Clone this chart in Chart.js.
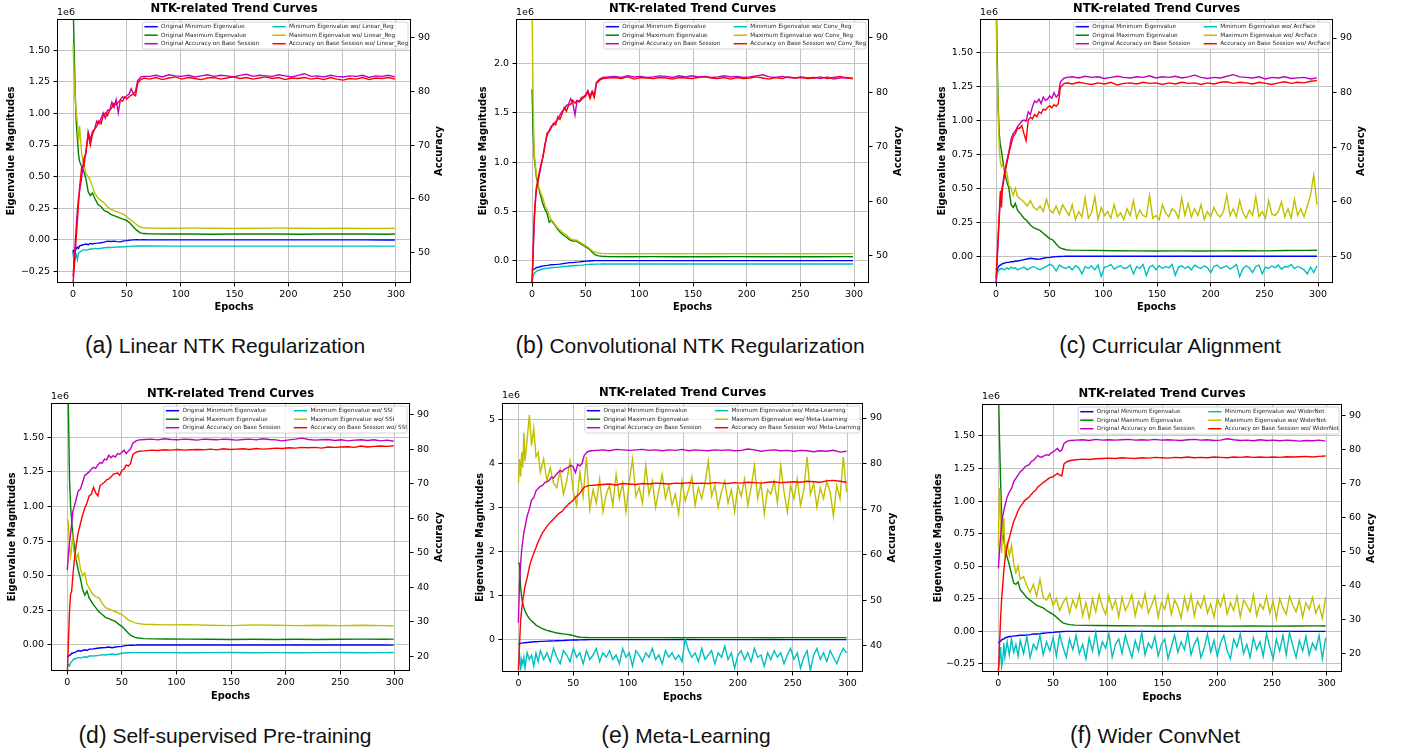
<!DOCTYPE html>
<html>
<head>
<meta charset="utf-8">
<script src="https://cdn.jsdelivr.net/npm/chart.js@4.4.1/dist/chart.umd.min.js"></script>
<style>
  body { margin: 0; background: #fff; width: 1403px; height: 753px; position: relative; overflow: hidden; }
  canvas { position: absolute; left: 0; top: 0; }
  .cap { position: absolute; transform: translate(-50%, -50%); white-space: nowrap; line-height: 1;
         font-family: "Liberation Sans", Arial, sans-serif; font-size: 21px; color: #111; }
  .cap .lab { font-size: 23px; }
</style>
</head>
<body>
<div class="cap" style="left:225px;top:345px"><span class="lab">(a)</span> Linear NTK Regularization</div>
<div class="cap" style="left:690px;top:345px"><span class="lab">(b)</span> Convolutional NTK Regularization</div>
<div class="cap" style="left:1170px;top:345px"><span class="lab">(c)</span> Curricular Alignment</div>
<div class="cap" style="left:225px;top:735px"><span class="lab">(d)</span> Self-supervised Pre-training</div>
<div class="cap" style="left:686px;top:735px"><span class="lab">(e)</span> Meta-Learning</div>
<div class="cap" style="left:1155px;top:735px"><span class="lab">(f)</span> Wider ConvNet</div>
<script>
const EPOCH_EIG = [0,1,2,3,4,5,6,8,10,12,14,16,18,20,
  23,26,29,32,35,38,41,44,47,50,53,56,59,62,65,
  70,90,110,130,150,170,190,210,230,250,270,290,299];
const EPOCH_ACC = [0,1,2,3,4,5,6,
  8,10,12,14,16,18,20,22,24,26,
  28,30,32,34,36,38,40,42,44,46,
  48,50,52,54,56,58,60,63,66,
  71,77,83,89,95,101,107,113,119,125,
  131,137,143,149,155,161,167,173,179,185,
  191,197,203,209,215,221,227,233,239,245,
  251,257,263,269,275,281,287,293,299];
const EPOCH_NOISE = [0,1,2,3,4,5,6,8,10,12,14,16,18,20,
  23,26,29,32,35,38,41,44,47,50,
  53,56,59,62,65,68,71,74,77,80,
  83,86,89,92,95,98,101,104,107,110,
  113,116,119,122,125,128,131,134,137,140,
  143,146,149,152,155,158,161,164,167,170,
  173,176,179,182,185,188,191,194,197,200,
  203,206,209,212,215,218,221,224,227,230,
  233,236,239,242,245,248,251,254,257,260,
  263,266,269,272,275,278,281,284,287,290,
  293,296,299];

const X_TICKS = [0,50,100,150,200,250,300];
const Y_TICKS_Q = [-0.25,0,0.25,0.5,0.75,1,1.25,1.5];
const Y_TICKS_Q0 = [0,0.25,0.5,0.75,1,1.25,1.5];
const Y_TICKS_B = [0,0.5,1,1.5,2];
const Y_TICKS_E = [0,1,2,3,4,5];
const ACC_TICKS_50 = [50,60,70,80,90];
const ACC_TICKS_40 = [40,50,60,70,80,90];
const ACC_TICKS_20 = [20,30,40,50,60,70,80,90];

// (a) Linear NTK Regularization
const A_MIN = [-0.08,-0.19,-0.09,-0.07,-0.06,-0.07,-0.05,-0.045,-0.04,-0.035,-0.04,-0.03,-0.035,-0.03,
  -0.028,-0.025,-0.02,-0.012,-0.015,-0.012,-0.016,-0.018,-0.01,-0.008,-0.004,-0.002,0,-0.002,-0.001,
  -0.002,-0.002,-0.002,-0.002,-0.002,-0.002,-0.002,-0.002,-0.002,-0.002,-0.002,-0.003,-0.003];
const A_MAX = [1.9,1.5,1.15,0.92,0.8,0.68,0.62,0.58,0.54,0.48,0.38,0.35,0.37,0.33,
  0.28,0.26,0.23,0.22,0.2,0.19,0.18,0.17,0.16,0.15,0.13,0.1,0.075,0.055,0.048,
  0.046,0.044,0.045,0.043,0.044,0.045,0.044,0.043,0.044,0.045,0.044,0.043,0.045];
const A_MIN_WO = [-0.1,-0.17,-0.14,-0.12,-0.16,-0.11,-0.1,-0.09,-0.08,-0.085,-0.08,-0.075,-0.075,-0.07,
  -0.072,-0.068,-0.065,-0.063,-0.062,-0.06,-0.058,-0.058,-0.057,-0.056,-0.054,-0.052,-0.051,-0.051,-0.051,
  -0.051,-0.052,-0.052,-0.052,-0.052,-0.052,-0.052,-0.052,-0.052,-0.052,-0.052,-0.052,-0.052];
const A_MAX_WO = [1.54,1.3,1.12,1.0,0.92,0.78,0.9,0.68,0.6,0.52,0.5,0.47,0.42,0.37,
  0.33,0.31,0.29,0.26,0.24,0.23,0.22,0.21,0.2,0.18,0.16,0.14,0.12,0.1,0.094,
  0.092,0.09,0.091,0.09,0.089,0.09,0.091,0.09,0.089,0.09,0.088,0.089,0.09];
const A_ACC = [45.5,49,52,55,58,60,61.5,
  64,67.5,68.5,72.5,71,72.5,73,74.5,74,75,
  76,75,76.5,76.5,78,77,78.5,76,78.5,79,
  78.8,79.2,79.5,80.5,79.6,80,82,82.7,82.8,
  82.8,83,82.7,83.1,82.9,82.8,83,82.7,82.9,83.1,
  82.8,83,82.9,82.7,83,83.2,82.8,83,82.9,82.8,
  83.1,82.9,82.7,83,83.3,82.8,82.9,82.7,83,82.8,
  82.7,82.9,82.8,83,82.6,82.9,82.8,83,82.7];
const A_ACC_WO = [44.5,47,50,53,56,59,62,
  66,66,69,72,70,72,73,73.5,74.5,74,
  75.5,76,75.5,76.5,77,77.8,77.5,78,78.4,78.2,
  79,78.6,79,79.3,79.5,79.2,81.5,82.2,82.5,
  82.3,82.6,82.2,82.5,82.7,82.3,82.6,82.4,82.2,82.5,
  82.6,82.3,82.5,82.7,82.4,82.6,82.3,82.5,82.7,82.4,
  82.6,82.2,82.5,82.4,82.6,82.3,82.5,82.2,82.6,82.3,
  82.1,82.4,82.3,82.6,82.2,82.5,82.4,82.6,82.3];

// (b) Convolutional NTK Regularization
const B_MIN = [-0.1,-0.09,-0.085,-0.08,-0.07,-0.07,-0.065,-0.06,-0.055,-0.05,-0.048,-0.045,-0.042,-0.04,
  -0.038,-0.035,-0.03,-0.025,-0.02,-0.02,-0.015,-0.012,-0.008,-0.005,-0.003,-0.001,0,0,0,
  0,0,0,0,0,0,0,0,0,0,0,0,0];
const B_MAX = [1.74,1.3,1.05,0.95,0.85,0.8,0.75,0.66,0.58,0.52,0.48,0.39,0.41,0.38,
  0.33,0.29,0.26,0.24,0.21,0.2,0.2,0.18,0.16,0.14,0.12,0.085,0.058,0.048,0.044,
  0.042,0.04,0.041,0.04,0.039,0.04,0.041,0.04,0.039,0.04,0.04,0.041,0.04];
const B_MIN_WO = [-0.22,-0.16,-0.13,-0.12,-0.11,-0.1,-0.1,-0.09,-0.085,-0.08,-0.078,-0.075,-0.072,-0.07,
  -0.068,-0.065,-0.06,-0.058,-0.055,-0.052,-0.05,-0.048,-0.045,-0.04,-0.038,-0.036,-0.035,-0.035,-0.034,
  -0.034,-0.034,-0.034,-0.034,-0.034,-0.034,-0.034,-0.034,-0.034,-0.034,-0.034,-0.034,-0.034];
const B_MAX_WO = [2.6,1.6,1.1,0.97,0.88,0.82,0.76,0.69,0.64,0.56,0.52,0.46,0.41,0.39,
  0.34,0.31,0.28,0.26,0.23,0.21,0.21,0.19,0.17,0.15,0.13,0.1,0.085,0.076,0.072,
  0.071,0.07,0.071,0.07,0.071,0.07,0.071,0.07,0.071,0.07,0.071,0.07,0.071];
const B_ACC = [45,50,56,59.5,62,63,64,
  66,68,70.5,72,73,73.8,74,74.6,75,75.8,
  76.5,76.8,77.5,77.8,78.8,78,75.8,78.5,78.3,79,
  79.2,79.5,80.3,79.3,80.2,79.5,81.8,82.4,82.7,
  82.8,82.9,82.7,83,82.8,82.9,82.7,82.8,83,82.9,
  82.7,83,82.8,83,82.8,82.9,82.7,82.8,83,82.8,
  82.9,82.7,82.8,83,83.2,82.8,82.7,82.9,82.7,82.6,
  82.8,82.6,82.7,82.5,82.8,82.4,82.6,82.7,82.5];
const B_ACC_WO = [45,51,57,60,62.5,63.5,64.5,
  66.5,68,70,72.5,72.8,73.5,74.3,74,75.5,75,
  76,77.2,76.5,77.6,77.8,78.5,78,78.4,78.2,78.6,
  79,79.3,80.1,78.8,80,79,81.6,82.2,82.5,
  82.6,82.7,82.5,82.8,82.4,82.7,82.6,82.5,82.7,82.6,
  82.4,82.7,82.6,82.5,82.7,82.8,82.6,82.5,82.7,82.4,
  82.7,82.5,82.6,82.8,82.6,82.4,82.7,82.5,82.8,82.6,
  82.7,82.5,82.6,82.8,82.5,82.7,82.9,82.6,82.5];

// (c) Curricular Alignment
const C_MIN = [-0.09,-0.11,-0.08,-0.07,-0.065,-0.06,-0.055,-0.05,-0.045,-0.045,-0.04,-0.04,-0.035,-0.035,
  -0.03,-0.025,-0.02,-0.015,-0.018,-0.022,-0.02,-0.015,-0.01,-0.008,-0.005,-0.003,-0.002,-0.001,0,
  0,0,0,0,0,0,0,0,0,0,0,0,0];
const C_MAX = [2.0,1.5,1.1,0.9,0.82,0.78,0.72,0.62,0.55,0.5,0.38,0.36,0.39,0.34,
  0.31,0.28,0.26,0.23,0.21,0.2,0.19,0.17,0.15,0.13,0.12,0.09,0.065,0.055,0.048,
  0.045,0.043,0.041,0.04,0.039,0.04,0.039,0.04,0.041,0.04,0.042,0.043,0.044];
const C_MIN_WO = [-0.19,-0.14,-0.11,-0.1,-0.09,-0.095,-0.09,-0.1,-0.085,-0.095,-0.08,-0.09,-0.085,-0.1,
  -0.09,-0.08,-0.1,-0.085,-0.075,-0.09,-0.1,-0.085,-0.075,-0.06,
  -0.07,-0.11,-0.065,-0.08,-0.09,-0.075,-0.1,-0.07,-0.085,-0.13,
  -0.075,-0.09,-0.07,-0.1,-0.065,-0.15,-0.08,-0.075,-0.06,-0.095,
  -0.08,-0.07,-0.09,-0.085,-0.065,-0.13,-0.075,-0.09,-0.06,-0.14,
  -0.08,-0.065,-0.1,-0.07,-0.09,-0.075,-0.085,-0.06,-0.14,-0.08,
  -0.07,-0.09,-0.075,-0.1,-0.065,-0.08,-0.09,-0.07,-0.085,-0.12,
  -0.075,-0.065,-0.09,-0.08,-0.07,-0.095,-0.08,-0.06,-0.15,-0.09,
  -0.07,-0.085,-0.12,-0.075,-0.065,-0.13,-0.08,-0.09,-0.07,-0.085,
  -0.065,-0.095,-0.075,-0.08,-0.06,-0.09,-0.075,-0.085,-0.1,-0.13,
  -0.08,-0.12,-0.07];
const C_MAX_WO = [1.8,1.4,1.05,0.8,0.7,0.66,0.67,0.64,0.62,0.52,0.5,0.45,0.5,0.44,
  0.42,0.4,0.37,0.41,0.36,0.34,0.37,0.33,0.42,0.34,
  0.32,0.37,0.31,0.38,0.34,0.3,0.38,0.27,0.33,0.29,
  0.43,0.28,0.32,0.44,0.27,0.36,0.3,0.33,0.28,0.38,
  0.29,0.32,0.27,0.35,0.3,0.41,0.28,0.34,0.3,0.29,
  0.45,0.28,0.3,0.27,0.38,0.32,0.29,0.35,0.33,0.28,
  0.43,0.3,0.39,0.29,0.35,0.3,0.38,0.27,0.33,0.29,
  0.36,0.31,0.29,0.33,0.45,0.3,0.35,0.29,0.41,0.32,
  0.28,0.34,0.3,0.44,0.29,0.33,0.28,0.41,0.31,0.3,
  0.33,0.4,0.29,0.35,0.28,0.42,0.3,0.35,0.29,0.37,
  0.45,0.6,0.38];
const C_ACC = [45,49,53,57,60.5,62,63,
  65.5,67.5,69.2,71.5,72.5,73,73.8,74.3,74.8,75,
  74.8,76.5,76,77.5,78.5,78.2,78.8,78,79.2,78.6,
  78.8,79.4,79,80,79.2,79.6,82,82.6,82.8,
  82.9,82.7,83,82.8,82.9,82.6,82.8,83,82.8,82.7,
  82.9,82.8,83.1,82.7,82.9,82.8,83,82.7,82.9,83.2,
  82.8,82.6,82.8,82.7,83,83.3,82.9,82.8,82.7,82.9,
  82.5,82.8,82.7,82.9,82.6,82.7,82.8,82.5,82.7];
const C_ACC_WO = [46,50,54,58,62,59,62.5,
  65,67,69,70.5,72,72.5,73.5,73.5,74,72.5,
  71.2,75,75.5,75.2,76,75.6,76.5,76.2,77,76.8,
  77.3,77.6,77.2,77.8,77.5,78,81,81.6,81.8,
  81.6,81.9,81.7,81.5,81.8,81.6,81.9,81.4,81.7,81.8,
  81.6,81.9,81.7,81.8,81.5,81.8,81.6,81.9,81.7,81.8,
  81.5,81.8,81.6,81.9,82,81.7,81.9,81.8,81.6,81.9,
  81.7,81.5,81.8,82,81.7,81.9,81.8,82.1,82.2];

// (d) Self-supervised Pre-training
const D_MIN = [-0.09,-0.08,-0.075,-0.07,-0.06,-0.06,-0.055,-0.05,-0.04,-0.045,-0.04,-0.035,-0.04,-0.03,
  -0.03,-0.025,-0.022,-0.02,-0.018,-0.015,-0.02,-0.015,-0.012,-0.01,-0.005,-0.003,-0.002,-0.001,0,
  0,0,0,0,0,0,0,0,0,0,0,0,-0.001];
const D_MAX = [2.0,1.7,1.2,1.0,0.9,0.8,0.74,0.62,0.54,0.48,0.4,0.36,0.39,0.34,
  0.3,0.27,0.24,0.22,0.2,0.19,0.18,0.17,0.15,0.135,0.11,0.085,0.065,0.055,0.05,
  0.046,0.043,0.042,0.041,0.04,0.041,0.04,0.041,0.04,0.041,0.042,0.041,0.042];
const D_MIN_WO = [-0.16,-0.14,-0.15,-0.13,-0.12,-0.11,-0.1,-0.1,-0.09,-0.095,-0.09,-0.085,-0.09,-0.08,
  -0.08,-0.078,-0.075,-0.07,-0.072,-0.068,-0.065,-0.07,-0.065,-0.06,-0.058,-0.056,-0.055,-0.055,-0.055,
  -0.055,-0.055,-0.056,-0.055,-0.054,-0.056,-0.055,-0.056,-0.055,-0.054,-0.056,-0.055,-0.054];
const D_MAX_WO = [0.91,0.88,0.7,0.64,0.72,0.78,0.68,0.62,0.66,0.55,0.5,0.52,0.44,0.41,
  0.37,0.35,0.34,0.3,0.27,0.26,0.25,0.24,0.23,0.22,0.2,0.18,0.17,0.16,0.155,
  0.15,0.145,0.147,0.143,0.14,0.145,0.142,0.14,0.143,0.14,0.142,0.14,0.137];
const D_ACC = [45,49.5,53,55.5,58.5,62,63,
  65.5,68,68.5,70.5,72.5,73,73.5,74.3,74.8,74.5,
  75.5,76.2,76,77.2,77,78.3,77.6,78.2,77.8,78.8,
  78.6,79.2,79.8,78.8,79.6,80.2,81.8,82.5,82.8,
  82.9,83,82.8,83.1,82.9,82.8,83,82.9,82.7,83,
  82.9,82.8,83,82.9,82.7,82.9,83,82.8,83.1,82.9,
  82.8,82.5,82.8,83,83.3,82.9,82.7,82.8,82.9,82.6,
  82.8,82.5,82.7,82.8,82.6,82.8,82.5,82.7,82.4];
const D_ACC_WO = [15,24,33,38,39,43,46.5,
  52,56,58.5,61,63,64.5,66.5,67,69,67.5,
  66.5,69.5,70,70.5,71.2,71.5,72,72.8,73,73.2,
  72.5,74,74.3,75.5,75.2,76,78.5,79.2,79.5,
  79.6,79.8,79.7,79.9,79.8,80,79.8,79.9,80,79.9,
  80.1,79.9,80.2,80,80.1,80.2,80,80.3,80.1,80.2,
  80.4,80.3,80.5,80.4,80.6,80.5,80.6,80.4,80.7,80.6,
  80.7,80.8,80.6,81,80.7,80.9,81,80.9,81.1];

// (e) Meta-Learning
const E_MIN = [-0.1,-0.09,-0.085,-0.08,-0.075,-0.07,-0.07,-0.065,-0.06,-0.055,-0.05,-0.05,-0.045,-0.04,
  -0.04,-0.035,-0.03,-0.028,-0.025,-0.022,-0.02,-0.015,-0.012,-0.01,-0.008,-0.005,-0.003,-0.002,0,
  0,0,0,0,0,0,0,0,0,0,0,0,0];
const E_MAX = [1.75,1.72,1.2,0.95,0.82,0.72,0.65,0.55,0.48,0.42,0.38,0.33,0.3,0.27,
  0.24,0.21,0.19,0.17,0.15,0.14,0.13,0.12,0.11,0.09,0.07,0.055,0.05,0.048,0.046,
  0.045,0.045,0.046,0.045,0.044,0.045,0.046,0.045,0.044,0.045,0.046,0.045,0.045];
const E_MIN_WO = [-0.6,-0.3,-0.7,-0.45,-0.55,-0.4,-0.65,-0.3,-0.45,-0.35,-0.6,-0.3,-0.5,-0.25,
  -0.45,-0.3,-0.5,-0.2,-0.4,-0.55,-0.25,-0.35,-0.5,-0.2,
  -0.4,-0.3,-0.55,-0.25,-0.45,-0.35,-0.2,-0.5,-0.3,-0.4,
  -0.25,-0.45,-0.35,-0.55,-0.2,-0.4,-0.3,-0.6,-0.25,-0.35,
  -0.5,-0.3,-0.4,-0.2,-0.45,-0.35,-0.55,-0.25,-0.4,-0.3,
  -0.45,-0.35,-0.5,0.02,-0.25,-0.4,-0.3,-0.5,-0.2,-0.45,
  -0.35,-0.25,-0.55,-0.3,-0.4,-0.15,-0.45,-0.3,-0.65,-0.35,
  -0.25,-0.45,-0.3,-0.5,-0.2,-0.4,-0.35,-0.6,-0.3,-0.45,
  -0.25,-0.4,-0.3,-0.55,-0.35,-0.2,-0.45,-0.3,-0.65,-0.4,
  -0.25,-0.7,-0.35,-0.2,-0.45,-0.3,-0.5,-0.25,-0.4,-0.55,
  -0.35,-0.2,-0.3];
const E_MAX_WO = [3.55,4.1,3.7,4.25,3.9,4.7,4.05,4.55,5.1,4.4,4.8,4.15,4.25,3.8,
  4.1,3.6,3.9,3.55,3.45,3.85,3.3,3.6,4.05,3.35,
  3.05,3.8,3.25,4.15,2.95,3.4,3.1,3.65,2.9,3.3,
  3.5,3.05,3.75,3.2,3.55,2.9,3.6,4.1,3.25,3.45,
  3.1,3.95,3.3,3.6,3.0,3.4,3.75,3.2,3.5,3.05,
  3.3,2.85,3.6,3.15,3.4,3.7,3.05,3.45,3.2,3.55,
  4.05,3.25,3.5,3.0,3.35,3.6,3.1,3.4,2.9,3.5,
  3.25,3.65,3.05,3.45,3.95,3.2,3.55,2.85,3.4,3.3,
  3.6,3.1,3.95,3.35,2.9,3.5,3.2,3.65,3.05,3.4,
  4.15,3.3,3.55,3.0,3.45,3.2,3.6,3.35,2.8,3.5,
  3.2,4.15,3.35];
const E_ACC = [45,54,58,61,63,65,66,
  68.5,70,72,72.5,74,74.5,75,75.2,75.8,76,
  76.3,77,76.8,77.5,78,78.5,78.2,78.8,79,79.3,
  79.6,79.2,78,79.8,79.5,80,81.8,82.6,82.8,
  82.9,83,82.8,83.1,83,82.9,83,83.1,82.9,83,
  82.8,83,82.9,83.1,82.8,83,82.9,82.8,83,82.9,
  83,82.8,82.9,83.2,83,82.7,82.9,83,82.8,82.9,
  82.7,82.9,82.8,82.6,82.8,82.7,82.9,82.5,82.7];
const E_ACC_WO = [34.5,40,45.5,48,50,51.5,53,
  55,57.3,59,60.3,61.5,62.8,63.8,64.8,65.5,66.2,
  66.8,67.3,67.8,68.3,68.8,69.2,69.5,70.2,70.6,71.2,
  71.5,72,72.6,73,73.5,74.2,74.8,75.1,75.2,
  75.3,75.4,75.5,75.3,75.6,75.5,75.4,75.6,75.5,75.7,
  75.6,75.5,75.7,75.6,75.8,75.6,75.7,75.6,75.8,75.7,
  75.6,75.8,75.7,75.9,75.8,75.7,75.9,76,75.8,75.9,
  76,75.9,76.1,76,75.9,76.2,76.3,76.1,75.9];

// (f) Wider ConvNet
const F_MIN = [-0.09,-0.08,-0.075,-0.065,-0.06,-0.06,-0.05,-0.045,-0.04,-0.04,-0.035,-0.035,-0.032,-0.03,
  -0.03,-0.028,-0.025,-0.02,-0.02,-0.018,-0.015,-0.012,-0.01,-0.008,-0.005,-0.003,-0.001,0,0,
  0,0,0,0,0,0,0,0,0,0,0,0,0];
const F_MAX = [1.9,1.5,1.15,0.9,0.76,0.7,0.64,0.57,0.51,0.44,0.37,0.36,0.38,0.32,
  0.29,0.26,0.24,0.22,0.2,0.19,0.18,0.16,0.145,0.13,0.11,0.085,0.065,0.057,0.052,
  0.048,0.045,0.043,0.042,0.041,0.042,0.041,0.04,0.041,0.04,0.041,0.042,0.041];
const F_MIN_WO = [-0.3,-0.22,-0.12,-0.27,-0.22,-0.09,-0.2,-0.08,-0.18,-0.06,-0.16,-0.1,-0.19,-0.07,
  -0.17,-0.04,-0.2,-0.1,-0.14,-0.03,-0.18,-0.08,-0.15,-0.05,
  -0.19,-0.02,-0.12,-0.2,-0.06,-0.14,-0.03,-0.17,-0.1,-0.21,
  -0.05,-0.15,-0.01,-0.18,-0.08,-0.13,-0.02,-0.2,-0.1,-0.06,
  -0.17,-0.03,-0.12,-0.2,-0.07,-0.15,-0.01,-0.18,-0.09,-0.13,
  -0.04,-0.19,-0.1,-0.06,-0.21,-0.12,-0.03,-0.16,-0.08,-0.14,
  -0.01,-0.18,-0.1,-0.05,-0.2,-0.13,-0.02,-0.16,-0.07,-0.19,
  -0.09,-0.03,-0.15,-0.21,-0.06,-0.12,-0.02,-0.17,-0.1,-0.2,
  -0.05,-0.14,-0.08,-0.19,-0.02,-0.12,-0.21,-0.06,-0.15,-0.03,
  -0.18,-0.01,-0.11,-0.2,-0.07,-0.15,-0.04,-0.18,-0.09,-0.14,
  -0.03,-0.21,-0.05];
const F_MAX_WO = [0.65,1.1,0.92,0.6,0.8,0.87,0.6,0.68,0.58,0.66,0.52,0.45,0.5,0.4,
  0.42,0.35,0.3,0.36,0.27,0.4,0.26,0.24,0.29,0.2,
  0.25,0.16,0.22,0.26,0.14,0.24,0.18,0.28,0.12,0.22,
  0.1,0.25,0.15,0.28,0.19,0.13,0.27,0.17,0.24,0.11,
  0.26,0.16,0.21,0.28,0.12,0.23,0.18,0.29,0.14,0.2,
  0.27,0.11,0.22,0.17,0.28,0.13,0.24,0.19,0.1,0.26,
  0.16,0.28,0.12,0.23,0.18,0.27,0.14,0.21,0.11,0.25,
  0.19,0.28,0.13,0.22,0.16,0.27,0.11,0.24,0.2,0.15,
  0.28,0.12,0.21,0.17,0.27,0.14,0.23,0.1,0.25,0.18,
  0.13,0.27,0.2,0.15,0.24,0.11,0.22,0.17,0.26,0.14,
  0.2,0.1,0.26];
const F_ACC = [45,50,54,58.5,60.5,62,63.5,
  66,67.5,68.5,70.5,71.5,72.5,73.5,74,74.8,75.3,
  75.5,76.5,76.8,77.5,78.3,77.8,77.8,78.2,78.5,78.3,
  79,79.3,79.8,80.4,79.5,79.8,81.8,82.5,82.7,
  82.8,82.9,82.7,83,82.8,82.9,82.8,82.9,83,82.8,
  82.9,82.8,83,82.8,82.9,82.8,82.7,82.9,83,82.8,
  82.9,82.7,82.8,83.2,82.9,82.7,82.8,82.6,82.9,82.7,
  82.8,82.6,82.8,82.7,82.5,82.7,82.6,82.8,82.5];
const F_ACC_WO = [14.5,22,30,36,40,44.5,47.5,
  51.5,54,56.5,58.8,60.3,62,63.2,64,65,65.5,
  66,66.8,67.5,68,69,69.5,70,70.5,71,71.5,
  71.8,72,72.5,73,72.5,72.3,75.8,76.5,76.8,
  77,77.2,77.1,77.3,77.4,77.5,77.4,77.6,77.5,77.4,
  77.6,77.5,77.7,77.6,77.5,77.7,77.6,77.8,77.6,77.7,
  77.6,77.8,77.7,77.6,77.8,77.7,77.9,77.7,77.8,77.7,
  77.8,77.7,77.9,77.8,77.9,78,77.8,78,78.1];

const COLORS = ["#0000ff", "#008000", "#bf00bf", "#00bfbf", "#bfbf00", "#ff0000"];
const DRAW_ORDER = [5, 4, 1, 3, 2, 0];
const ORIG_LABELS = ["Original Minimum Eigenvalue", "Original Maximum Eigenvalue", "Original Accuracy on Base Session"];
const WO_LABELS = ["Minimum Eigenvalue wo/ ", "Maximum Eigenvalue wo/ ", "Accuracy on Base Session wo/ "];

const PANELS = [
  { tag: "Linear_Reg", plot: [57, 411, 19, 283], yr: [-0.344, 1.749], yt: Y_TICKS_Q, dec: 2, ar: [44.35, 93.48], at: ACC_TICKS_50,
    eigX: 11, accX: 439, epY: 307, titleY: 9, expY: 13,
    series: [[EPOCH_EIG, A_MIN], [EPOCH_EIG, A_MAX], [EPOCH_ACC, A_ACC], [EPOCH_EIG, A_MIN_WO], [EPOCH_EIG, A_MAX_WO], [EPOCH_ACC, A_ACC_WO]] },
  { tag: "Conv_Reg", plot: [516, 869, 19, 283], yr: [-0.227, 2.454], yt: Y_TICKS_B, dec: 1, ar: [44.98, 93.43], at: ACC_TICKS_50,
    eigX: 483.5, accX: 898, epY: 307, titleY: 9, expY: 13,
    series: [[EPOCH_EIG, B_MIN], [EPOCH_EIG, B_MAX], [EPOCH_ACC, B_ACC], [EPOCH_EIG, B_MIN_WO], [EPOCH_EIG, B_MAX_WO], [EPOCH_ACC, B_ACC_WO]] },
  { tag: "ArcFace", plot: [980, 1333, 19, 283], yr: [-0.197, 1.748], yt: Y_TICKS_Q0, dec: 2, ar: [45.18, 93.48], at: ACC_TICKS_50,
    eigX: 942, accX: 1361, epY: 307, titleY: 9, expY: 13,
    series: [[EPOCH_EIG, C_MIN], [EPOCH_EIG, C_MAX], [EPOCH_ACC, C_ACC], [EPOCH_NOISE, C_MIN_WO], [EPOCH_NOISE, C_MAX_WO], [EPOCH_ACC, C_ACC_WO]] },
  { tag: "SSI", plot: [51, 410, 403, 671], yr: [-0.188, 1.748], yt: Y_TICKS_Q0, dec: 2, ar: [15.75, 93.48], at: ACC_TICKS_20,
    eigX: 12.5, accX: 439.5, epY: 696, titleY: 393.5, expY: 397,
    series: [[EPOCH_EIG, D_MIN], [EPOCH_EIG, D_MAX], [EPOCH_ACC, D_ACC], [EPOCH_EIG, D_MIN_WO], [EPOCH_EIG, D_MAX_WO], [EPOCH_ACC, D_ACC_WO]] },
  { tag: "Meta-Learning", plot: [502, 863, 403, 672], yr: [-0.735, 5.37], yt: Y_TICKS_E, dec: 0, ar: [34.2, 93.3], at: ACC_TICKS_40,
    eigX: 480, accX: 892, epY: 697, titleY: 393, expY: 396,
    series: [[EPOCH_EIG, E_MIN], [EPOCH_EIG, E_MAX], [EPOCH_ACC, E_ACC], [EPOCH_NOISE, E_MIN_WO], [EPOCH_NOISE, E_MAX_WO], [EPOCH_ACC, E_ACC_WO]] },
  { tag: "WiderNet", plot: [982, 1342, 404, 672], yr: [-0.312, 1.745], yt: Y_TICKS_Q, dec: 2, ar: [14.5, 93.43], at: ACC_TICKS_20,
    eigX: 938, accX: 1371, epY: 697, titleY: 394, expY: 397,
    series: [[EPOCH_EIG, F_MIN], [EPOCH_EIG, F_MAX], [EPOCH_ACC, F_ACC], [EPOCH_NOISE, F_MIN_WO], [EPOCH_NOISE, F_MAX_WO], [EPOCH_ACC, F_ACC_WO]] }
];

const GRID = "#c2c2c2";
const TICK_FONT = { family: "DejaVu Sans", size: 9.5 };

function fmt(v, dec) {
  const s = Math.abs(v).toFixed(dec);
  return v < 0 ? "\u2212" + s : s;
}

function setTicks(values) {
  return (scale) => { scale.ticks = values.map((v) => ({ value: v })); };
}

function drawLegend(ctx, right, top, labels) {
  ctx.font = '5.7px "DejaVu Sans"';
  const w1 = Math.max(...labels.slice(0, 3).map((s) => ctx.measureText(s).width));
  const w2 = Math.max(...labels.slice(3).map((s) => ctx.measureText(s).width));
  const bw = 48.5 + w1 + w2, bh = 27;
  const bx = right - 3 - bw, by = top + 3;
  ctx.fillStyle = "rgba(255,255,255,0.8)";
  ctx.strokeStyle = "#cccccc";
  ctx.lineWidth = 0.8;
  ctx.beginPath();
  if (ctx.roundRect) ctx.roundRect(bx, by, bw, bh, 2); else ctx.rect(bx, by, bw, bh);
  ctx.fill();
  ctx.stroke();
  ctx.textAlign = "left";
  ctx.textBaseline = "middle";
  labels.forEach((lab, i) => {
    const col = i < 3 ? 0 : 1;
    const x0 = bx + 2 + (col ? 18.6 + w1 + 11.3 : 0);
    const y = by + 4.7 + (i % 3) * 8.5;
    ctx.strokeStyle = COLORS[i];
    ctx.lineWidth = 1.5;
    ctx.beginPath();
    ctx.moveTo(x0, y);
    ctx.lineTo(x0 + 13.3, y);
    ctx.stroke();
    ctx.fillStyle = "#222";
    ctx.fillText(lab, x0 + 16.6, y);
  });
}

function makeDecor(p) {
  return {
    id: "decor",
    afterDraw(chart) {
      const ctx = chart.ctx;
      const { left, right, top, bottom } = chart.chartArea;
      const labels = ORIG_LABELS.concat(WO_LABELS.map((s) => s + p.tag));
      ctx.save();
      drawLegend(ctx, right, top, labels);

      ctx.strokeStyle = "#000";
      ctx.lineWidth = 1;
      ctx.strokeRect(left + 0.5, top + 0.5, right - left - 1, bottom - top - 1);

      ctx.fillStyle = "#000";
      ctx.textAlign = "center";
      ctx.textBaseline = "middle";
      ctx.font = 'bold 11.6px "DejaVu Sans"';
      ctx.fillText("NTK-related Trend Curves", (left + right) / 2, p.titleY);
      ctx.font = 'bold 9.8px "DejaVu Sans"';
      ctx.fillText("Epochs", (left + right) / 2, p.epY);
      const midY = (top + bottom) / 2;
      for (const [x, text] of [[p.eigX, "Eigenvalue Magnitudes"], [p.accX, "Accuracy"]]) {
        ctx.save();
        ctx.translate(x, midY);
        ctx.rotate(-Math.PI / 2);
        ctx.fillText(text, 0, 0);
        ctx.restore();
      }
      ctx.font = '9.5px "DejaVu Sans"';
      ctx.textAlign = "left";
      ctx.fillText("1e6", left, p.expY);
      ctx.restore();
    }
  };
}

PANELS.forEach((p) => {
  const cv = document.createElement("canvas");
  cv.width = 1403;
  cv.height = 753;
  document.body.appendChild(cv);
  const [l, r, t, b] = p.plot;

  const datasets = p.series.map(([xs, ys], i) => ({
    data: xs.map((x, k) => ({ x, y: ys[k] })),
    borderColor: COLORS[i],
    borderWidth: 1.4,
    pointRadius: 0,
    tension: 0,
    fill: false,
    clip: 0,
    order: DRAW_ORDER[i],
    yAxisID: i === 2 || i === 5 ? "y1" : "y"
  }));

  new Chart(cv, {
    type: "line",
    data: { datasets },
    options: {
      responsive: false,
      animation: false,
      devicePixelRatio: 1,
      events: [],
      layout: { padding: { left: l - 40, right: 1403 - r - 30, top: t, bottom: 753 - b - 20 } },
      plugins: { legend: { display: false }, tooltip: { enabled: false } },
      scales: {
        x: {
          type: "linear", min: -14.95, max: 313.95,
          afterBuildTicks: setTicks(X_TICKS),
          afterFit: (s) => { s.height = 20; },
          grid: { color: GRID, lineWidth: 1, tickLength: 3.5, tickColor: "#000" },
          border: { display: false },
          ticks: { font: TICK_FONT, color: "#000", padding: 2, maxRotation: 0, autoSkip: false }
        },
        y: {
          position: "left", min: p.yr[0], max: p.yr[1],
          afterBuildTicks: setTicks(p.yt),
          afterFit: (s) => { s.width = 40; },
          grid: { color: GRID, lineWidth: 1, tickLength: 3.5, tickColor: "#000" },
          border: { display: false },
          ticks: { font: TICK_FONT, color: "#000", padding: 3.5, callback: (v) => fmt(v, p.dec) }
        },
        y1: {
          position: "right", min: p.ar[0], max: p.ar[1],
          afterBuildTicks: setTicks(p.at),
          afterFit: (s) => { s.width = 30; },
          grid: { drawOnChartArea: false, tickLength: 3.5, tickColor: "#000" },
          border: { display: false },
          ticks: { font: TICK_FONT, color: "#000", padding: 3.5, callback: (v) => String(v) }
        }
      }
    },
    plugins: [makeDecor(p)]
  });
});
</script>
</body>
</html>
